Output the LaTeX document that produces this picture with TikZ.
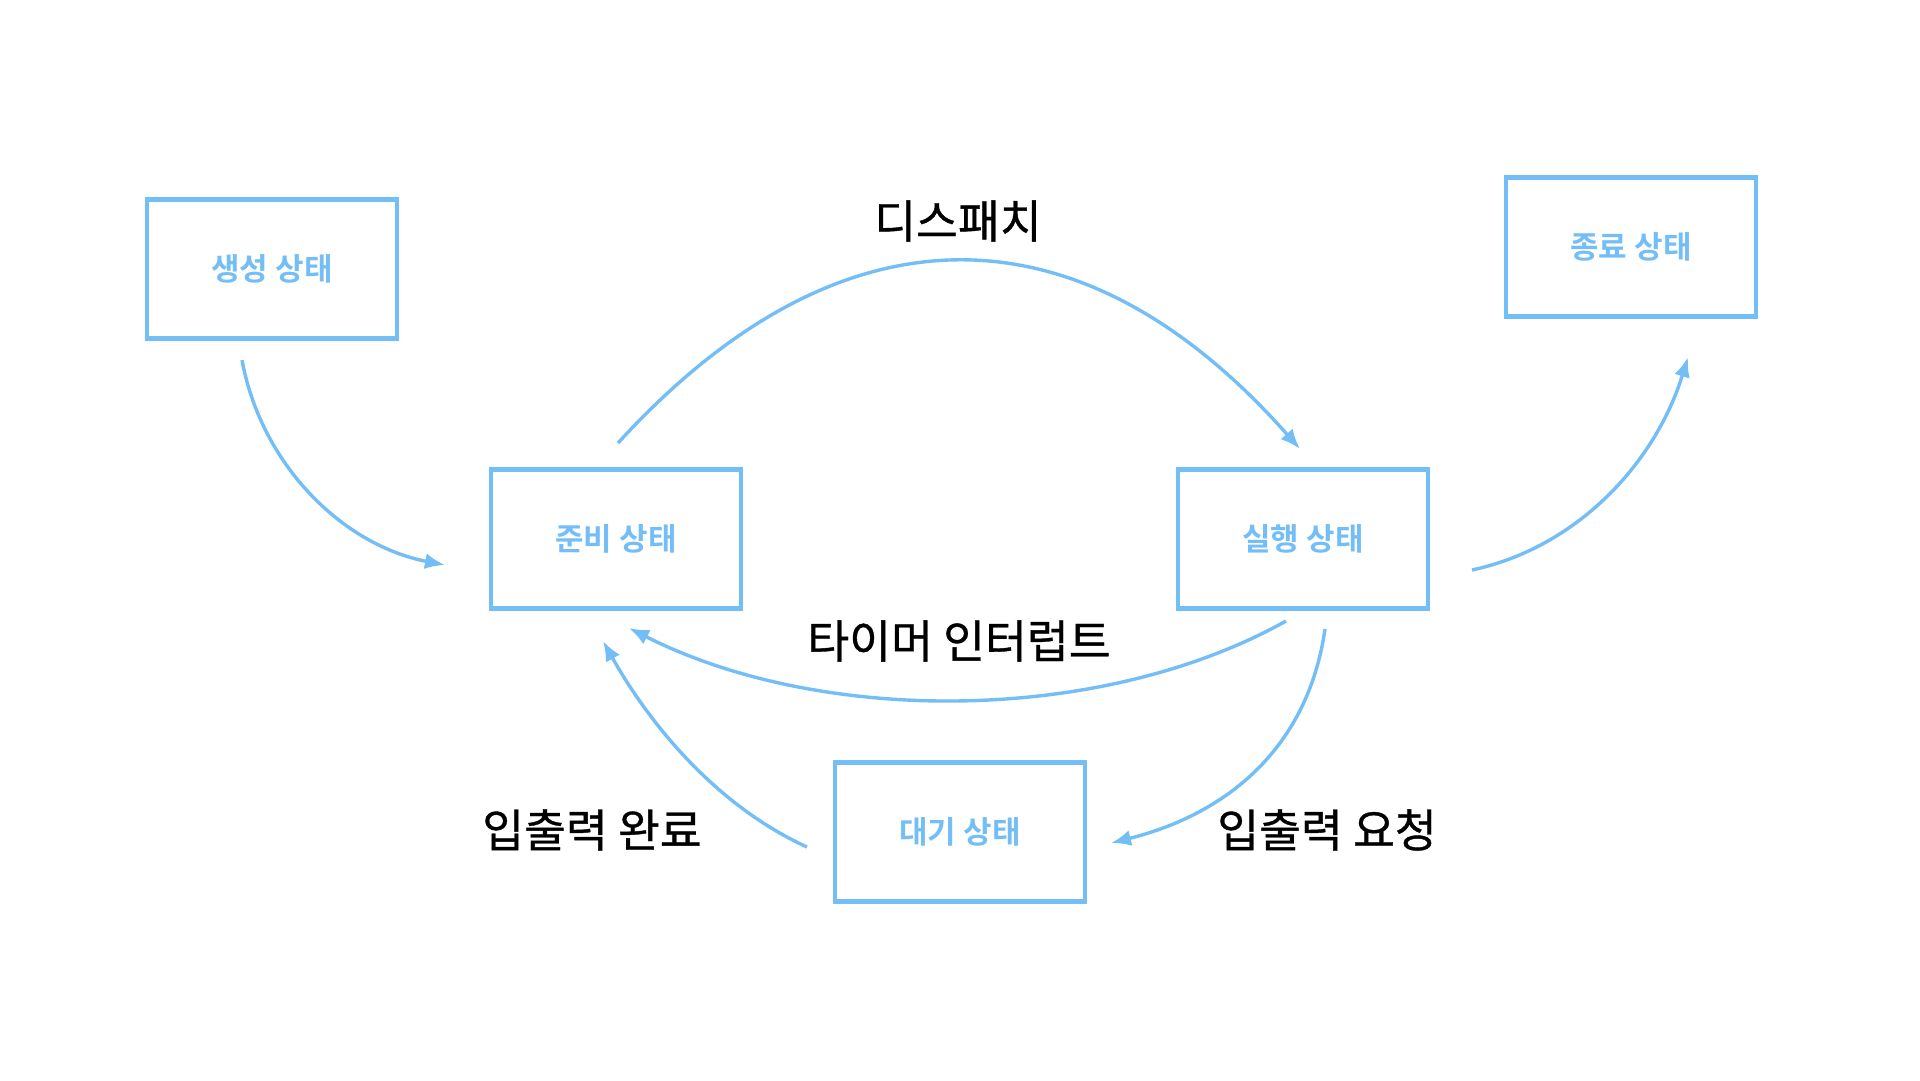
\documentclass[tikz,border=0pt]{standalone}
\usepackage{fontspec}
\setmainfont{Noto Sans CJK KR}
\newfontfamily\krbold{Noto Sans CJK KR Bold}
\newfontfamily\krlabel[FakeBold=0.8]{Noto Sans CJK KR}
\usetikzlibrary{arrows.meta}
\definecolor{stblue}{RGB}{116,190,248}
\tikzset{
  statebox/.style={draw=stblue, line width=4.2pt, minimum width=250pt, minimum height=139pt,
    inner sep=0pt, text=stblue, font=\krbold\fontsize{31}{36}\selectfont},
  translabel/.style={text=black, inner sep=0pt, font=\krlabel\fontsize{45.5}{52}\selectfont},
  conn/.style={draw=stblue, line width=3.4pt, -{Latex[length=20pt,width=16pt]}}
}
\begin{document}
\begin{tikzpicture}[x=1pt,y=-1pt]
\useasboundingbox[fill=white] (0,0) rectangle (1920,1080);
% states
\node[statebox] (new)   at (272,269)  {생성 상태};
\node[statebox] (term)  at (1631,247) {종료 상태};
\node[statebox] (ready) at (616,539)  {준비 상태};
\node[statebox] (run)   at (1303,539) {실행 상태};
\node[statebox] (wait)  at (960,832)  {대기 상태};
% labels
\node[translabel] (ldispatch) at (958,221) {디스패치};
\node[translabel] (ltimer)    at (959,641) {타이머 인터럽트};
\node[translabel] (liodone)   at (592,830) {입출력 완료};
\node[translabel] (lioreq)    at (1327,830) {입출력 요청};
% connector end points
\coordinate (a1s) at (242,360);  \coordinate (a1e) at (445,565);
\coordinate (a2s) at (618,443);  \coordinate (a2e) at (1300,449);
\coordinate (a3s) at (1472,570); \coordinate (a3e) at (1688,357);
\coordinate (a4s) at (1286,621); \coordinate (a4e) at (629,628);
\coordinate (a5s) at (1325,629); \coordinate (a5e) at (1111,843);
\coordinate (a6s) at (807,847);  \coordinate (a6e) at (603,641);
% connectors
\draw[conn] (a1s) .. controls (261,464) and (342,545) .. (a1e);
\draw[conn] (a2s) .. controls (840,200) and (1080,200) .. (a2e);
\draw[conn] (a3s) .. controls (1579,547) and (1656,461) .. (a3e);
\draw[conn] (a4s) .. controls (1100,725) and (820,725) .. (a4e);
\draw[conn] (a5s) .. controls (1308,748) and (1227,814) .. (a5e);
\draw[conn] (a6s) .. controls (717,806) and (650,725) .. (a6e);
\end{tikzpicture}
\end{document}
